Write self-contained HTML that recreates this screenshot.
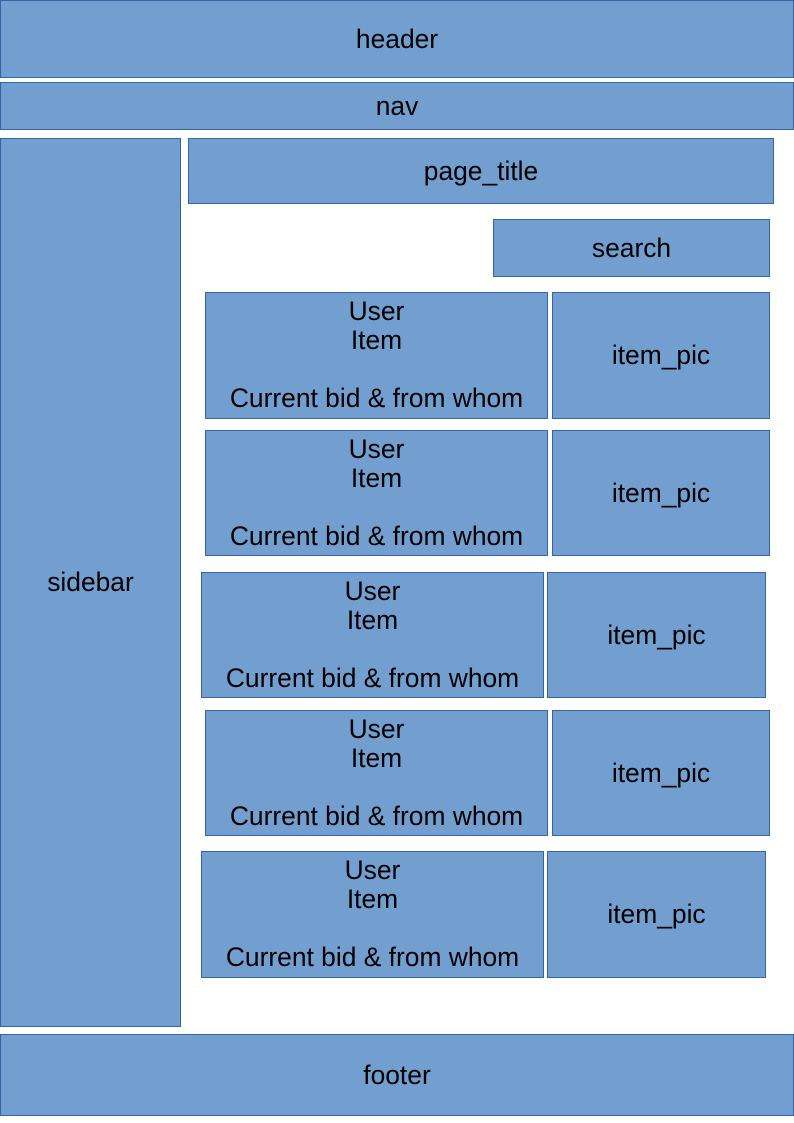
<!DOCTYPE html>
<html><head><style>
body{margin:0;width:794px;height:1123px;background:#fff;position:relative;font-family:"Liberation Sans",sans-serif;font-size:26.4px;color:#000}
.b{position:absolute;box-sizing:border-box;background:#729fcf;border:1px solid #3465a4;display:flex;align-items:center;justify-content:center;text-align:center}
.t{align-items:flex-start;line-height:29px;padding-top:4px}
</style></head><body>
<div class="b" style="left:0;top:0;width:794px;height:78px">header</div>
<div class="b" style="left:0;top:82px;width:794px;height:48px">nav</div>
<div class="b" style="left:0;top:138px;width:181px;height:889px">sidebar</div>
<div class="b" style="left:188px;top:138px;width:586px;height:66px">page_title</div>
<div class="b" style="left:493px;top:219px;width:277px;height:58px">search</div>

<div class="b t" style="left:205px;top:292px;width:343px;height:127px">User<br>Item<br>&nbsp;<br>Current bid &amp; from whom</div>
<div class="b" style="left:552px;top:292px;width:218px;height:127px">item_pic</div>

<div class="b t" style="left:205px;top:430px;width:343px;height:126px">User<br>Item<br>&nbsp;<br>Current bid &amp; from whom</div>
<div class="b" style="left:552px;top:430px;width:218px;height:126px">item_pic</div>

<div class="b t" style="left:201px;top:572px;width:343px;height:126px">User<br>Item<br>&nbsp;<br>Current bid &amp; from whom</div>
<div class="b" style="left:547px;top:572px;width:219px;height:126px">item_pic</div>

<div class="b t" style="left:205px;top:710px;width:343px;height:126px">User<br>Item<br>&nbsp;<br>Current bid &amp; from whom</div>
<div class="b" style="left:552px;top:710px;width:218px;height:126px">item_pic</div>

<div class="b t" style="left:201px;top:851px;width:343px;height:127px">User<br>Item<br>&nbsp;<br>Current bid &amp; from whom</div>
<div class="b" style="left:547px;top:851px;width:219px;height:127px">item_pic</div>

<div class="b" style="left:0;top:1034px;width:794px;height:82px">footer</div>
</body></html>
